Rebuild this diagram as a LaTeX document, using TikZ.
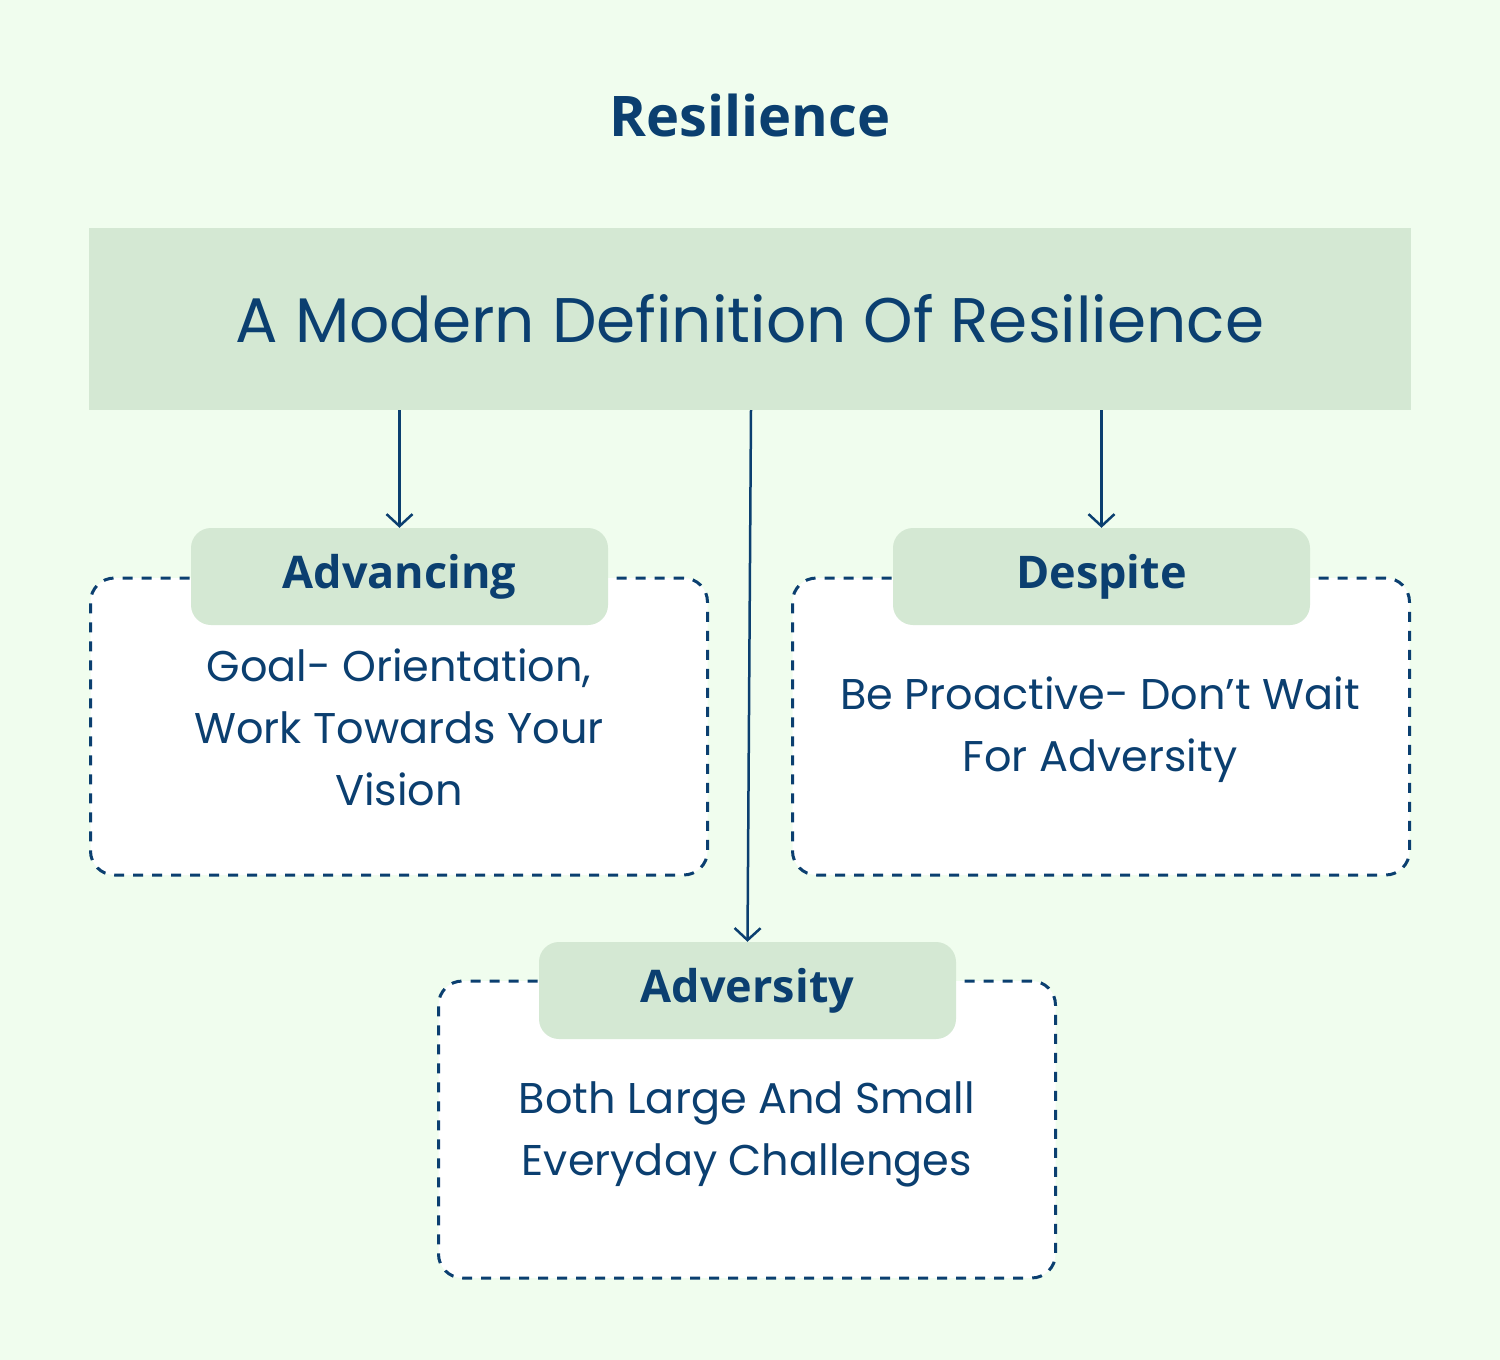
\documentclass[tikz,border=0pt]{standalone}
\usepackage{fontspec}
\setmainfont{Poppins}
\newfontfamily\labelfont{Open Sans}
\usetikzlibrary{arrows.meta, positioning}
\definecolor{bgmint}{HTML}{F0FDEE}
\definecolor{sage}{HTML}{D4E8D3}
\definecolor{navy}{HTML}{0B3F70}
\tikzset{
  dashbox/.style={draw=navy, line width=3pt, dash pattern=on 10pt off 9pt, fill=white,
    rounded corners=24pt, minimum width=617pt, minimum height=297pt, inner sep=0pt},
  tabbox/.style={fill=sage, rounded corners=20pt, minimum width=417pt, minimum height=97pt,
    inner sep=0pt, text=navy, font=\labelfont\bfseries\fontsize{45}{50}\selectfont},
  bodytext/.style={text=navy, align=center, font=\fontsize{43}{62}\selectfont},
  link/.style={draw=navy, line width=2.5pt, -{Straight Barb[length=12pt, width=26pt]}}
}
\begin{document}
\begin{tikzpicture}[x=1pt, y=-1pt]
    \fill[bgmint] (0,0) rectangle (1500,1360);
    \useasboundingbox (0,0) rectangle (1500,1360);

    % Title
    \node[text=navy, font=\labelfont\bfseries\fontsize{56}{60}\selectfont] (title) at (750,115) {Resilience};

    % Header band
    \node[fill=sage, minimum width=1322pt, minimum height=182pt, inner sep=0pt, text=navy,
      font=\fontsize{63}{70}\selectfont] (head) at (750,319) {A Modern Definition Of Resilience};

    % Boxes
    \node[dashbox] (advbox) at (399,726.5) {};
    \node[tabbox] (advtab) at (399.5,576.5) {Advancing};
    \node[bodytext] (advtxt) at (399,727) {Goal- Orientation,\\Work Towards Your\\Vision};

    \node[dashbox] (despbox) at (1101,726.5) {};
    \node[tabbox] (desptab) at (1101.5,576.5) {Despite};
    \node[bodytext] (desptxt) at (1100,730) {Be Proactive- Don’t Wait\\For Adversity};

    \node[dashbox] (advrbox) at (747,1129.5) {};
    \node[tabbox] (advrtab) at (747.5,990.5) {Adversity};
    \node[bodytext] (advrtxt) at (747,1134) {Both Large And Small\\Everyday Challenges};

    % Connectors
    \coordinate (midstart) at (751,410);
    \draw[link] (head.south -| advtab) -- (advtab.north);
    \draw[link] (midstart) -- (advrtab.north);
    \draw[link] (head.south -| desptab) -- (desptab.north);
\end{tikzpicture}
\end{document}
